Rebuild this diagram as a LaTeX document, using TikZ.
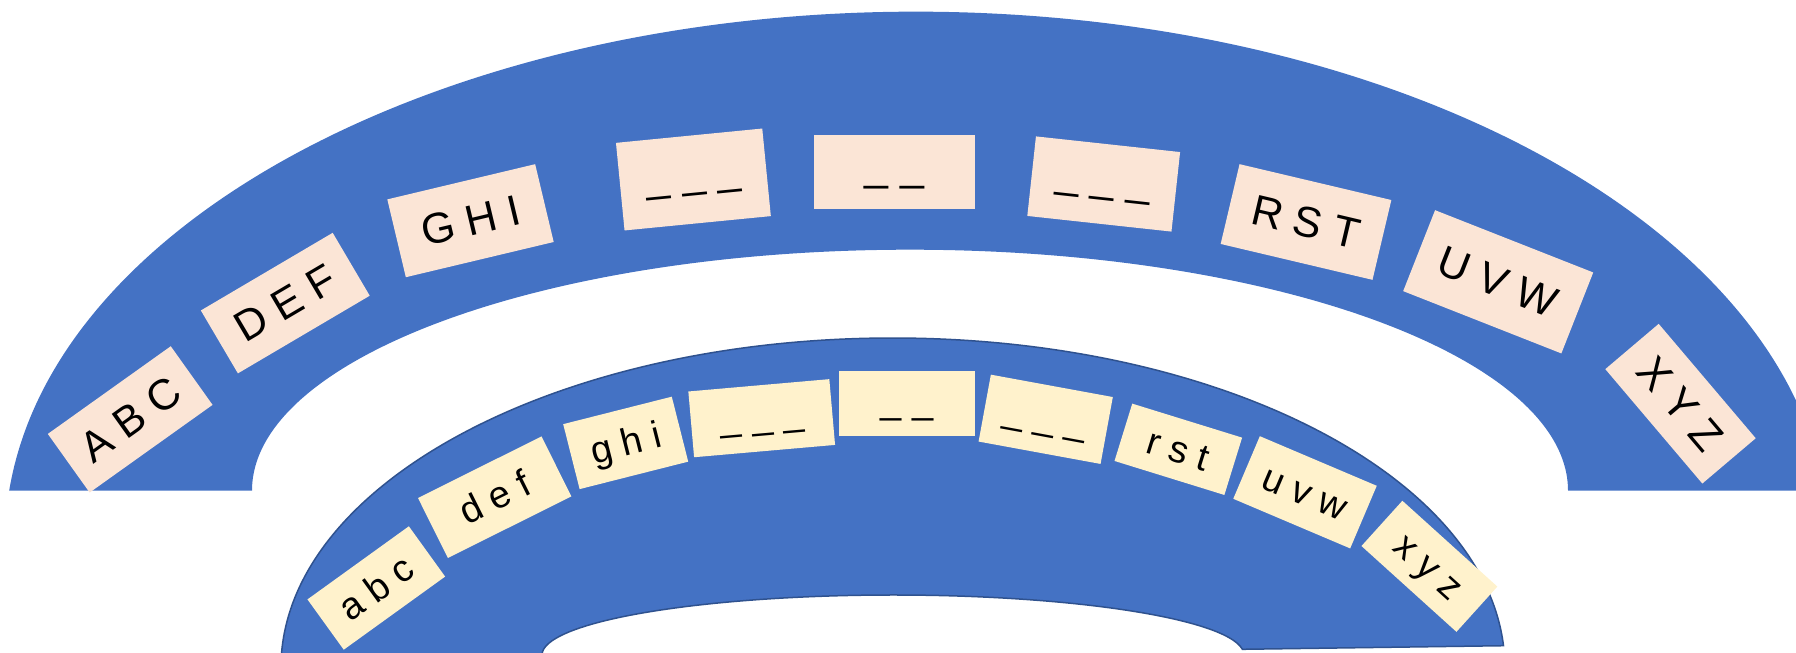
\documentclass[tikz,border=0pt]{standalone}
\usepackage{fontspec}
\setmainfont{Liberation Sans}
\definecolor{band}{HTML}{4472C4}
\definecolor{bandline}{HTML}{2F528F}
\definecolor{peach}{HTML}{FBE5D6}
\definecolor{cream}{HTML}{FFF2CC}

\begin{document}
\begin{tikzpicture}[x=1pt,y=1pt,
  upper/.style={fill=peach,inner sep=0pt,font=\fontsize{43}{50}\selectfont,text height=38.9pt,text depth=9.1pt},
  upperdash/.style={upper,text height=16.3pt,text depth=0pt},
  lower/.style={fill=cream,inner sep=0pt,font=\fontsize{38}{45}\selectfont,text height=34.4pt,text depth=8.1pt},
  lowerdash/.style={lower,text height=20pt,text depth=0pt}]
\useasboundingbox (0,0) rectangle (1796,653);

\fill[band] (9.2,162.3) arc[start angle=174.48, end angle=5.52, x radius=912, y radius=530]
  -- (1568,162.3) arc[start angle=0, end angle=180, x radius=658, y radius=241] -- cycle;

\filldraw[band, draw=bandline, line width=1.5pt] (281,-10)
  arc[start angle=179.13, end angle=3.875, x radius=612, y radius=330]
  -- (1242.4,3.7) arc[start angle=5.45, end angle=190, x radius=351, y radius=60] -- cycle;

\node[upper, rotate=35.5, minimum width=151pt, minimum height=72pt] (ABC) at (130.2,233.6) {A B C};
\node[upper, rotate=30.5, minimum width=153pt, minimum height=73pt] (DEF) at (285.3,349.9) {D E F};
\node[upper, rotate=13.4, minimum width=152pt, minimum height=80pt] (GHI) at (470.5,432.3) {G H I};
\node[upperdash, rotate=5.6, minimum width=147pt, minimum height=88pt] (u4) at (693.4,473.5) {\_ \_ \_};
\node[upperdash, minimum width=161.5pt, minimum height=74pt] (u5) at (894.3,481) {\_ \_};
\node[upperdash, rotate=-6.2, minimum width=145pt, minimum height=80pt] (u6) at (1103.7,469) {\_ \_ \_};
\node[upper, rotate=-13.3, minimum width=156pt, minimum height=82pt] (RST) at (1306,431) {R S T};
\node[upper, rotate=-21.5, minimum width=170pt, minimum height=87pt] (UVW) at (1498.2,371.2) {U V W};
\node[upper, rotate=-49.7, minimum width=150pt, minimum height=70pt] (XYZ) at (1680.5,249.3) {X Y Z};

\node[lower, rotate=35.8, minimum width=125pt, minimum height=62pt] (abc) at (376.3,65) {a b c};
\node[lower, rotate=26.5, minimum width=138pt, minimum height=67pt] (def) at (494.7,155.8) {d e f};
\node[lower, rotate=14.2, minimum width=112pt, minimum height=67pt] (ghi) at (625.7,210.1) {g h i};
\node[lowerdash, rotate=5.0, minimum width=141.5pt, minimum height=66pt] (l4) at (761.7,234.8) {\_ \_ \_};
\node[lowerdash, minimum width=135.6pt, minimum height=65pt] (l5) at (906.8,249.5) {\_ \_};
\node[lowerdash, rotate=-10.4, minimum width=124pt, minimum height=68pt] (l6) at (1045.7,233.7) {\_ \_ \_};
\node[lower, rotate=-17.2, minimum width=115pt, minimum height=60pt] (rst) at (1178.3,203.7) {r s t};
\node[lower, rotate=-23, minimum width=127pt, minimum height=68pt] (uvw) at (1305,160.7) {u v w};
\node[lower, rotate=-42.1, minimum width=128pt, minimum height=61pt] (xyz) at (1429.4,86.7) {x y z};

\end{tikzpicture}
\end{document}
